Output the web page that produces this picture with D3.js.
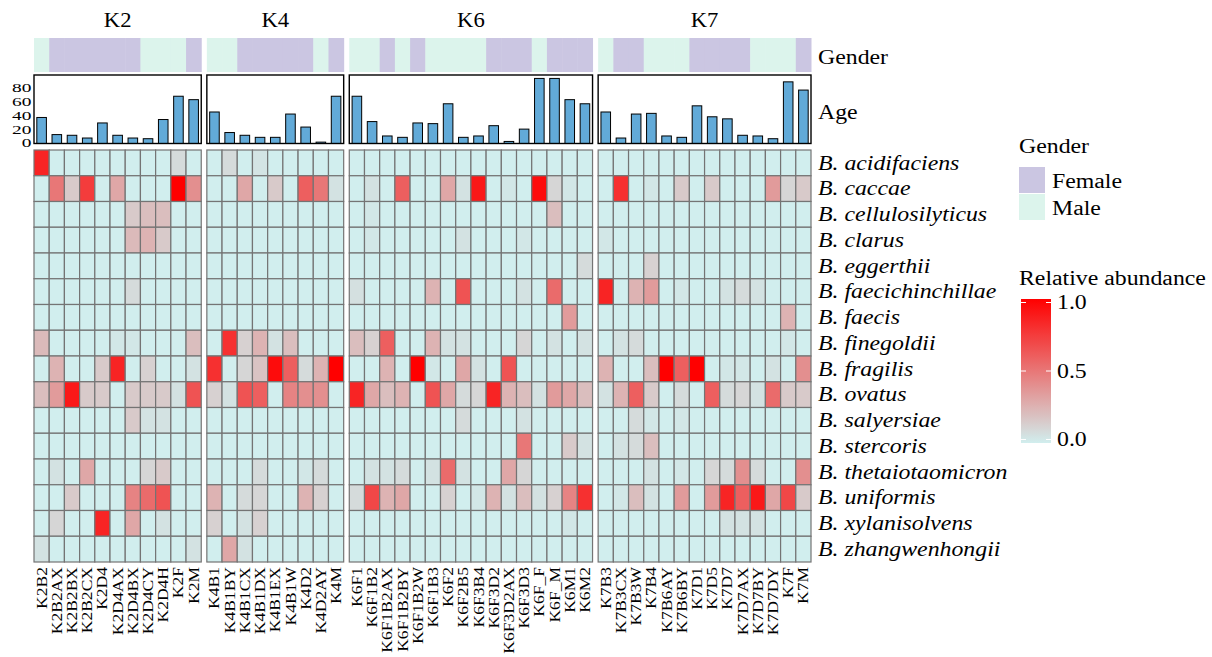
<!DOCTYPE html>
<html><head><meta charset="utf-8">
<script src="https://cdn.jsdelivr.net/npm/d3@7"></script>
<style>
body{margin:0;background:#fff}
text{font-family:"Liberation Serif","Times New Roman",serif;fill:#000}
</style>
</head><body>
<svg id="c" width="1212" height="657"></svg>
<script>
const groups = ["K2","K4","K6","K7"];
const samples = [
 "K2B2","K2B2AX","K2B2BX","K2B2CX","K2D4","K2D4AX","K2D4BX","K2D4CY","K2D4H","K2F","K2M",
 "K4B1","K4B1BY","K4B1CX","K4B1DX","K4B1EX","K4B1W","K4D2","K4D2AY","K4M",
 "K6F1","K6F1B2","K6F1B2AX","K6F1B2BY","K6F1B2W","K6F1B3","K6F2","K6F2B5","K6F3B4","K6F3D2","K6F3D2AX","K6F3D3","K6F_F","K6F_M","K6M1","K6M2",
 "K7B3","K7B3CX","K7B3W","K7B4","K7B6AY","K7B6BY","K7D1","K7D5","K7D7","K7D7AX","K7D7BY","K7D7DY","K7F","K7M"];
const sampleGroup = [
 "K2","K2","K2","K2","K2","K2","K2","K2","K2","K2","K2",
 "K4","K4","K4","K4","K4","K4","K4","K4","K4",
 "K6","K6","K6","K6","K6","K6","K6","K6","K6","K6","K6","K6","K6","K6","K6","K6",
 "K7","K7","K7","K7","K7","K7","K7","K7","K7","K7","K7","K7","K7","K7"];
const gender = [
 "Male","Female","Female","Female","Female","Female","Female","Male","Male","Male","Female",
 "Male","Male","Female","Female","Female","Female","Female","Male","Female",
 "Male","Male","Female","Male","Female","Male","Male","Male","Male","Female","Female","Female","Male","Female","Female","Female",
 "Male","Female","Female","Male","Male","Male","Female","Female","Female","Female","Male","Male","Male","Female"];
const age = [
 38,13,12,8,30,12,8,7,35,69,64,
 46,16,12,9,9,43,24,2,69,
 69,32,11,9,30,29,58,9,11,26,3,21,95,95,64,58,
 46,8,43,44,11,9,55,39,36,12,11,7,90,78];
const species = ["B. acidifaciens","B. caccae","B. cellulosilyticus","B. clarus","B. eggerthii",
 "B. faecichinchillae","B. faecis","B. finegoldii","B. fragilis","B. ovatus","B. salyersiae",
 "B. stercoris","B. thetaiotaomicron","B. uniformis","B. xylanisolvens","B. zhangwenhongii"];
// rows = species, columns = samples (K2 | K4 | K6 | K7)
const abundance = [
 [.85,0,0,0,0,0,0,0,0,.08,0, 0,.08,0,.04,0,0,0,0,0, 0,0,0,0,0,0,0,0,0,0,0,0,0,0,0,0, 0,0,0,0,0,0,0,0,0,0,0,0,0,0],
 [0,.5,.15,.75,0,.3,0,0,0,1,.4, 0,0,.3,0,.15,0,.6,.5,.05, 0,.05,0,.6,0,0,.3,.05,.9,0,.03,0,.95,.1,.03,0, 0,.8,0,.03,0,.15,0,.15,0,0,0,.35,.1,.15],
 [0,0,0,0,0,0,.15,.2,.2,0,0, 0,0,0,0,0,0,0,0,0, 0,.03,0,0,0,0,0,0,0,0,0,0,0,.2,0,0, 0,0,0,0,0,0,0,0,0,0,0,0,0,0],
 [0,0,0,0,0,0,.22,.25,.15,0,0, 0,0,0,0,0,0,0,0,0, 0,.03,0,0,0,0,0,.05,0,0,0,.03,0,0,0,0, .03,0,0,0,0,0,0,0,0,0,0,0,0,0],
 [0,0,0,0,0,0,0,0,0,0,0, 0,0,0,0,0,0,0,0,0, 0,0,0,0,0,0,0,0,0,0,0,0,0,0,0,.08, 0,0,0,.12,0,0,0,0,0,0,0,0,0,0],
 [0,0,0,0,0,0,.08,0,0,0,0, 0,0,0,0,0,0,0,0,0, .06,0,0,0,0,.25,0,.65,0,0,0,.05,0,.55,0,0, .85,0,.25,.35,0,.03,0,0,.05,.08,.05,0,0,0],
 [0,0,0,0,0,0,0,0,0,0,0, 0,0,0,0,0,0,0,0,0, 0,0,0,0,0,0,0,0,0,0,0,0,0,0,.35,0, 0,0,0,0,0,0,0,0,0,0,0,0,.25,0],
 [.22,0,0,0,0,.03,.03,0,0,0,.2, 0,.8,.12,.25,.05,.2,0,0,0, .2,.12,.6,0,0,.25,.05,.05,0,0,0,.1,0,.05,0,.05, 0,.05,.08,0,0,0,0,0,0,0,0,0,.03,0],
 [0,.25,0,0,.15,.85,0,.12,0,0,.05, .8,0,.1,.18,.95,.6,.08,.25,1, 0,0,.25,0,1,.03,0,.3,.05,0,.65,0,0,0,0,0, .25,0,0,.2,1,.6,1,0,.03,.03,0,.05,0,.4],
 [.2,.35,.9,.15,.15,0,.15,.15,.15,.05,.65, .12,.05,.65,.6,0,.45,.4,.4,0, .85,.3,.2,.25,0,.65,.3,.08,.1,.85,.25,.2,.05,.35,.3,.2, .05,.25,.6,.15,0,.08,0,.6,.08,.1,.05,.55,.15,.15],
 [0,0,0,0,0,0,.15,.05,.05,0,0, 0,0,0,0,0,0,0,0,0, 0,0,0,0,0,0,0,.08,0,0,0,.05,0,0,0,0, 0,0,.08,.03,0,.03,0,0,0,0,0,0,0,0],
 [0,0,0,0,0,0,0,0,0,0,0, 0,0,0,0,0,0,0,0,0, 0,0,0,0,0,0,0,0,0,0,0,.5,0,0,.15,.05, 0,.05,.08,.2,0,0,0,0,0,0,0,0,0,0],
 [0,.05,0,.3,0,0,0,.1,.15,0,0, 0,0,0,.08,0,0,.03,.08,0, 0,.05,.05,.08,0,.05,.55,.05,0,0,.3,.1,0,0,0,0, 0,0,0,.05,0,.03,0,.1,.08,.4,.08,0,0,.4],
 [0,0,.15,0,0,0,.45,.55,.65,0,0, .25,0,.08,.1,0,0,.25,.12,0, .08,.7,.25,.3,0,0,.12,0,.03,.25,.05,.2,.05,.12,.45,.8, 0,.03,.2,.05,0,.35,0,.35,.85,.6,.9,.3,.7,.15],
 [0,.1,0,0,.85,0,.3,0,.05,0,0, .12,0,.05,.12,0,0,0,0,0, 0,0,0,0,0,0,0,0,0,0,0,0,0,0,.03,0, 0,0,0,0,0,0,0,0,.05,.05,.05,0,0,0],
 [.05,0,0,0,0,0,0,0,0,0,.05, 0,.3,.05,0,0,0,0,0,0, 0,0,0,0,0,0,0,0,0,0,0,0,0,0,0,0, 0,0,0,0,0,0,0,0,0,0,0,0,0,0]
];
const genderLevels = ["Female","Male"];
const genderColors = ["#cbc6e2","#dcf4ec"];
const ageTicks = [0,20,40,60,80];
const legendTicks = [0,0.5,1];

const svg = d3.select("#c");
const SX = 1.19;
function txt(g, x, y, s, o) {
  const t = g.append("text")
    .attr("transform", `translate(${x},${y})${o.rot ? ` rotate(${o.rot})` : ""} scale(${o.sx || SX},1)`)
    .attr("font-size", o.fs || 20)
    .attr("text-anchor", o.anchor || "start")
    .attr("dominant-baseline", o.db || "central")
    .text(s);
  if (o.italic) t.attr("font-style", "italic");
  return t;
}

const left = 34, right = 811, gap = 5.6;
const cellW = (right - left - 3 * gap) / samples.length;
const genderColor = d3.scaleOrdinal().domain(genderLevels).range(genderColors);
const fill = d3.scaleLinear().domain([0, 1]).range(["#d1eeee", "#ff0000"]).interpolate(d3.interpolateRgb);
const yRow = d3.scaleBand().domain(species).range([150, 562]);
const yAge = d3.scaleLinear().domain([0, 100]).range([143.5, 75]);

let offset = 0;
groups.forEach((grp, gi) => {
  const idx = samples.map((s, i) => i).filter(i => sampleGroup[i] === grp);
  const x0 = left + offset * cellW + gi * gap;
  const x1 = x0 + idx.length * cellW;
  offset += idx.length;
  const names = idx.map(i => samples[i]);
  const x = d3.scaleBand().domain(names).range([x0, x1]);
  const xb = d3.scaleBand().domain(names).range([x0, x1]).paddingInner(0.37).paddingOuter(0.185);
  const g = svg.append("g");

  // title
  txt(g, (x0 + x1) / 2, 20, grp, {fs: 21, anchor: "middle", sx: 1.08});

  // gender strip
  g.selectAll("rect.gen").data(idx).enter().append("rect")
    .attr("x", i => x(samples[i])).attr("width", x.bandwidth() + 0.5)
    .attr("y", 38).attr("height", 34)
    .attr("fill", i => genderColor(gender[i]));

  // age bars
  g.selectAll("rect.age").data(idx).enter().append("rect")
    .attr("x", i => xb(samples[i])).attr("width", xb.bandwidth())
    .attr("y", i => yAge(age[i])).attr("height", i => yAge(0) - yAge(age[i]))
    .attr("fill", "#62aad8").attr("stroke", "#000").attr("stroke-width", 1);
  g.append("rect").attr("x", x0).attr("y", yAge.range()[1]).attr("width", x1 - x0)
    .attr("height", yAge.range()[0] - yAge.range()[1])
    .attr("fill", "none").attr("stroke", "#000").attr("stroke-width", 1.4);

  if (gi === 0) {
    const ax = g.append("g").attr("transform", `translate(${x0 - 1},-1)`)
      .call(d3.axisLeft(yAge).tickValues(ageTicks).tickSize(0).tickPadding(1));
    ax.select(".domain").remove();
    ax.selectAll("text").attr("font-size", 12.5).attr("font-family", '"Liberation Serif",serif')
      .attr("transform", "scale(1.55,1.05)").attr("fill", "#000");
  }

  // heatmap cells
  species.forEach((sp, r) => {
    g.selectAll(null).data(idx).enter().append("rect")
      .attr("x", i => x(samples[i])).attr("width", x.bandwidth())
      .attr("y", yRow(sp)).attr("height", yRow.bandwidth())
      .attr("fill", i => fill(abundance[r][i]))
      .attr("stroke", "#747474").attr("stroke-width", 1.2);
  });

  // column labels
  names.forEach(n => {
    txt(g, x(n) + x.bandwidth() / 2, 567, n, {fs: 15, rot: -90, anchor: "end", sx: 1.17});
  });
});

// right-side labels
txt(svg, 818, 57, "Gender", {});
txt(svg, 818, 112, "Age", {});
species.forEach(sp => {
  txt(svg, 818, yRow(sp) + yRow.bandwidth() / 2, sp, {italic: true});
});

// Gender legend
txt(svg, 1019, 146, "Gender", {});
genderLevels.forEach((lv, k) => {
  svg.append("rect").attr("x", 1019).attr("y", 167 + k * 27).attr("width", 26).attr("height", 26)
    .attr("fill", genderColor(lv));
  txt(svg, 1052, 181 + k * 27, lv, {});
});

// Relative abundance legend
txt(svg, 1019, 278, "Relative abundance", {});
const yLeg = d3.scaleLinear().domain([0, 1]).range([439.5, 302.5]);
const defs = svg.append("defs");
const grad = defs.append("linearGradient").attr("id", "ra").attr("x1", 0).attr("y1", 1).attr("x2", 0).attr("y2", 0);
d3.range(0, 1.0001, 0.05).forEach(t => {
  grad.append("stop").attr("offset", t).attr("stop-color", fill(t));
});
svg.append("rect").attr("x", 1021).attr("y", 299).attr("width", 30).attr("height", 144).attr("fill", "url(#ra)");
legendTicks.forEach(t => {
  svg.append("line").attr("x1", 1021).attr("x2", 1026).attr("y1", yLeg(t)).attr("y2", yLeg(t))
    .attr("stroke", "#fff").attr("stroke-width", 1);
  svg.append("line").attr("x1", 1046).attr("x2", 1051).attr("y1", yLeg(t)).attr("y2", yLeg(t))
    .attr("stroke", "#fff").attr("stroke-width", 1);
  txt(svg, 1057, yLeg(t), d3.format(".1f")(t), {});
});
</script>
</body></html>
